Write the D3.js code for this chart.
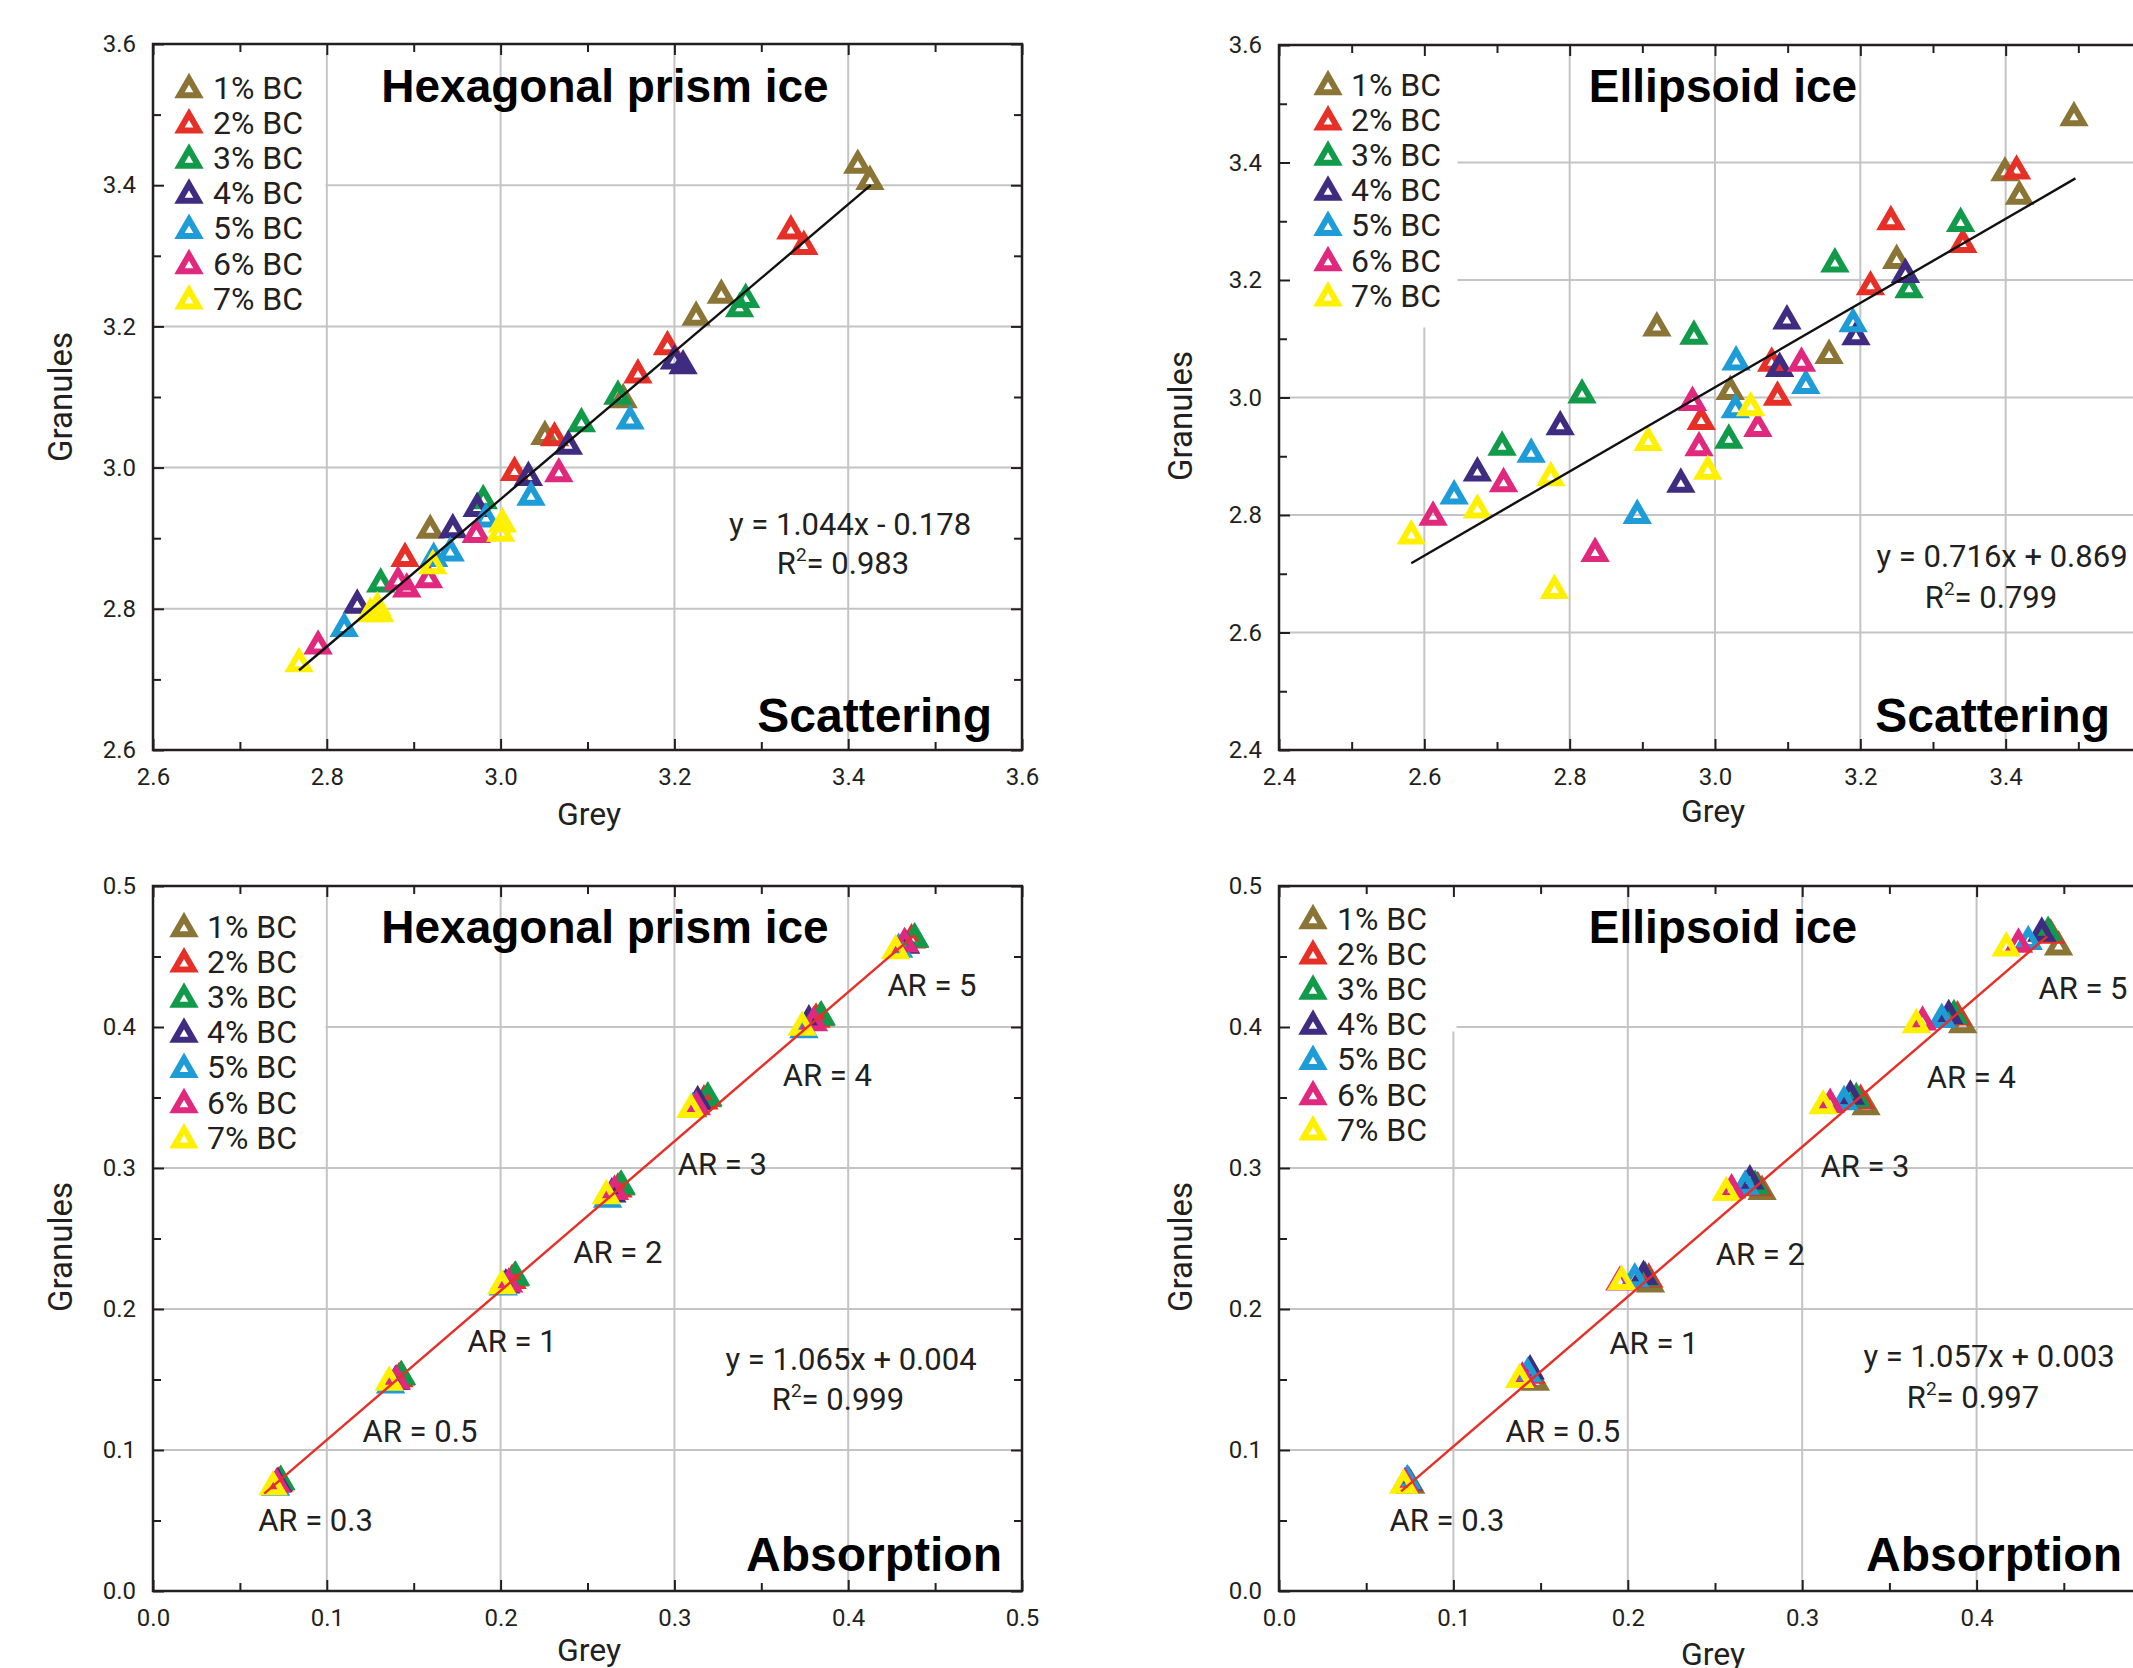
<!DOCTYPE html>
<html><head><meta charset="utf-8">
<script src="https://cdn.jsdelivr.net/npm/d3@7"></script>
<style>
html,body{margin:0;padding:0;background:#fff;}
svg{display:block;}
text{font-family:Roboto,"Noto Sans",sans-serif;fill:#231f20;}
.bold{font-family:"Liberation Sans",Arial,sans-serif;font-weight:bold;fill:#000;}
</style></head><body>
<svg id="c" width="2133" height="1668"></svg>
<script>
// ---------------- DATA ----------------
const seriesLabels = ["1% BC","2% BC","3% BC","4% BC","5% BC","6% BC","7% BC"];
const seriesColors = ["#8b7536","#e63027","#119a4a","#3f2c80","#1d9cd8","#e0287d","#fff000"];
const arLabels = ["AR = 0.3","AR = 0.5","AR = 1","AR = 2","AR = 3","AR = 4","AR = 5"];
const panelTitles = ["Hexagonal prism ice","Ellipsoid ice","Hexagonal prism ice","Ellipsoid ice"];
const panelModes = ["Scattering","Scattering","Absorption","Absorption"];
const panelEquations = ["y = 1.044x - 0.178","y = 0.716x + 0.869","y = 1.065x + 0.004","y = 1.057x + 0.003"];
const panelR2 = ["0.983","0.799","0.999","0.997"];
const xAxisTitle = "Grey";
const yAxisTitle = "Granules";

// Top-left: hexagonal prism ice, scattering
const hexScatGrey = [
  [3.411,3.425,3.254,3.225,3.141,3.051,2.919],
  [3.334,3.349,3.192,3.158,3.062,3.016,2.890],
  [3.282,3.275,3.135,3.093,2.980,2.862],
  [3.210,3.200,3.078,3.032,2.973,2.945,2.835],
  [3.149,3.035,2.983,2.942,2.923,2.820],
  [3.067,2.972,2.917,2.892,2.882,2.790],
  [3.002,3.000,2.922,2.861,2.850,2.858,2.768]
];
const hexScatGranules = [
  [3.432,3.409,3.248,3.217,3.100,3.048,2.915],
  [3.339,3.317,3.175,3.135,3.046,2.997,2.875],
  [3.242,3.229,3.105,3.066,2.957,2.839],
  [3.148,3.155,3.034,2.990,2.946,2.916,2.809],
  [3.070,2.962,2.931,2.883,2.875,2.776],
  [2.995,2.909,2.845,2.832,2.842,2.751],
  [2.924,2.911,2.865,2.797,2.797,2.805,2.726]
];
const hexScatFitX = [2.768,3.426];
const hexScatFitY = [2.713,3.400];

// Top-right: ellipsoid ice, scattering
const ellScatGrey = [
  [3.494,3.399,3.419,3.250,3.157,3.021,2.920],
  [3.415,3.242,3.341,3.214,3.078,3.086,2.981],
  [3.338,3.165,3.267,2.971,2.817,3.019,2.707],
  [3.262,3.099,3.194,3.089,2.787,2.673,2.953],
  [3.190,3.029,3.125,3.028,2.747,2.641,2.893],
  [3.119,2.969,3.059,2.978,2.709,2.612,2.835],
  [3.049,2.908,2.990,2.774,2.673,2.582,2.779]
];
const ellScatGranules = [
  [3.481,3.387,3.347,3.238,3.076,3.015,3.123],
  [3.390,3.304,3.265,3.193,3.063,3.005,2.964],
  [3.301,3.232,3.188,3.109,3.009,2.932,2.920],
  [3.214,3.135,3.108,3.054,2.955,2.876,2.857],
  [3.130,3.065,3.025,2.984,2.908,2.837,2.804],
  [3.063,2.996,2.952,2.919,2.858,2.801,2.739],
  [2.987,2.928,2.879,2.868,2.813,2.769,2.676]
];
const ellScatFitX = [2.582,3.496];
const ellScatFitY = [2.718,3.373];

// Bottom-left: hexagonal prism ice, absorption (AR = 0.3, 0.5, 1, 2, 3, 4, 5)
const hexAbsGrey = [
  [0.0735,0.1425,0.2080,0.2690,0.3190,0.3840,0.4380],
  [0.0725,0.1415,0.2066,0.2675,0.3170,0.3815,0.4364],
  [0.0735,0.1430,0.2086,0.2694,0.3193,0.3845,0.4383],
  [0.0718,0.1395,0.2030,0.2640,0.3134,0.3774,0.4330],
  [0.0705,0.1367,0.2015,0.2616,0.3105,0.3745,0.4290],
  [0.0711,0.1400,0.2046,0.2655,0.3126,0.3800,0.4324],
  [0.0691,0.1359,0.2007,0.2608,0.3095,0.3735,0.4273]
];
const hexAbsGranules = [
  [0.0795,0.1535,0.2240,0.2885,0.3510,0.4085,0.4640],
  [0.0785,0.1525,0.2222,0.2870,0.3495,0.4075,0.4636],
  [0.0796,0.1540,0.2245,0.2890,0.3517,0.4090,0.4643],
  [0.0780,0.1505,0.2190,0.2835,0.3490,0.4062,0.4600],
  [0.0755,0.1480,0.2175,0.2797,0.3440,0.4000,0.4570],
  [0.0777,0.1509,0.2196,0.2853,0.3453,0.4050,0.4610],
  [0.0758,0.1500,0.2185,0.2823,0.3435,0.4017,0.4560]
];
const hexAbsFitX = [0.064,0.438];
const hexAbsFitY = [0.069,0.465];
const hexAbsArX = [0.0935,0.1536,0.2066,0.2675,0.3276,0.3880,0.4482];
const hexAbsArY = [0.0507,0.1137,0.1772,0.2402,0.3033,0.3660,0.4298];

// Bottom-right: ellipsoid ice, absorption
const ellAbsGrey = [
  [0.0755,0.1470,0.2130,0.2770,0.3366,0.3920,0.4470],
  [0.0745,0.1445,0.2120,0.2745,0.3335,0.3890,0.4425],
  [0.0740,0.1435,0.2100,0.2730,0.3310,0.3870,0.4410],
  [0.0738,0.1440,0.2090,0.2700,0.3276,0.3840,0.4374],
  [0.0735,0.1425,0.2040,0.2673,0.3240,0.3800,0.4296],
  [0.0722,0.1395,0.1955,0.2595,0.3160,0.3690,0.4240],
  [0.0715,0.1380,0.1965,0.2564,0.3120,0.3654,0.4170]
];
const ellAbsGranules = [
  [0.0770,0.1500,0.2196,0.2853,0.3453,0.4035,0.4587],
  [0.0785,0.1550,0.2230,0.2880,0.3498,0.4090,0.4670],
  [0.0790,0.1570,0.2240,0.2890,0.3510,0.4100,0.4690],
  [0.0795,0.1580,0.2250,0.2928,0.3529,0.4100,0.4685],
  [0.0800,0.1560,0.2233,0.2890,0.3490,0.4073,0.4625],
  [0.0780,0.1530,0.2210,0.2864,0.3470,0.4054,0.4606],
  [0.0770,0.1520,0.2215,0.2845,0.3460,0.4035,0.4580]
];
const ellAbsFitX = [0.070,0.4405];
const ellAbsFitY = [0.0706,0.4643];
const ellAbsArX = [0.0963,0.1628,0.2150,0.2760,0.3360,0.3970,0.4610];
const ellAbsArY = [0.0507,0.1135,0.1760,0.2390,0.3015,0.3650,0.4280];

// ---------------- LAYOUT ----------------
const panels = [
  {box:{left:153,top:44,w:869,h:706}, xDom:[2.6,3.6], yDom:[2.6,3.6], major:0.2, minor:0.1,
   gx:hexScatGrey, gy:hexScatGranules, fx:hexScatFitX, fy:hexScatFitY, fitColor:"#111", fitW:2.4,
   legBox:[171,278], legTri:36, legText:60, legY0:43,
   titleX:452, titleY:58, modeX:-30, modeY:-18, eqX:697, eqY:491, r2X:690, r2Y:530,
   xtX:436, xtY:75, ytX:-81, ytY:353},
  {box:{left:1279,top:45,w:872,h:705}, xDom:[2.4,3.6], yDom:[2.4,3.6], major:0.2, minor:0.1,
   gx:ellScatGrey, gy:ellScatGranules, fx:ellScatFitX, fy:ellScatFitY, fitColor:"#111", fitW:2.4,
   legBox:[177,281], legTri:49, legText:72, legY0:39,
   titleX:444, titleY:57, modeX:-41, modeY:-18, eqX:723, eqY:522, r2X:712, r2Y:563,
   xtX:434, xtY:72, ytX:-87, ytY:371},
  {box:{left:153,top:886,w:869,h:705}, xDom:[0,0.5], yDom:[0,0.5], major:0.1, minor:0.05,
   gx:hexAbsGrey, gy:hexAbsGranules, fx:hexAbsFitX, fy:hexAbsFitY, fitColor:"#e63027", fitW:2.4,
   arX:hexAbsArX, arY:hexAbsArY,
   legBox:[171,270], legTri:31, legText:54, legY0:40,
   titleX:452, titleY:57, modeX:-20, modeY:-20, eqX:698, eqY:484, r2X:685, r2Y:524,
   xtX:436, xtY:70, ytX:-81, ytY:361},
  {box:{left:1279,top:886,w:872,h:705}, xDom:[0,0.5], yDom:[0,0.5], major:0.1, minor:0.05,
   gx:ellAbsGrey, gy:ellAbsGranules, fx:ellAbsFitX, fy:ellAbsFitY, fitColor:"#e63027", fitW:2.4,
   arX:ellAbsArX, arY:ellAbsArY,
   legBox:[176,144], legTri:34, legText:58, legY0:32,
   titleX:444, titleY:57, modeX:-29, modeY:-20, eqX:710, eqY:481, r2X:694, r2Y:522,
   xtX:434, xtY:74, ytX:-87, ytY:361}
];

const svg = d3.select("#c");
svg.append("rect").attr("width",2133).attr("height",1668).attr("fill","#fff");

// upward triangle centred on its bounding box
const triSide = 19;
const markerStroke = 6;
const boxTriangle = {
  draw(ctx, size) {
    const s = Math.sqrt(size / (Math.sqrt(3) / 4));
    const hh = s * Math.sqrt(3) / 2;
    ctx.moveTo(0, -hh / 2);
    ctx.lineTo(s / 2, hh / 2);
    ctx.lineTo(-s / 2, hh / 2);
    ctx.closePath();
  }
};
const triPath = d3.symbol().type(boxTriangle).size(Math.sqrt(3) / 4 * triSide * triSide)();
const ticksBetween = (d, step) => d3.range(Math.round((d[1]-d[0])/step)+1).map(i => +(d[0]+i*step).toFixed(3));
const fmt = d3.format(".1f");

panels.forEach((p, pi) => {
  const {left, top, w, h} = p.box;
  const x = d3.scaleLinear().domain(p.xDom).range([left, left+w]);
  const y = d3.scaleLinear().domain(p.yDom).range([top+h, top]);
  const g = svg.append("g");

  const xMaj = ticksBetween(p.xDom, p.major), yMaj = ticksBetween(p.yDom, p.major);
  const xMin = ticksBetween(p.xDom, p.minor).filter(v => !xMaj.includes(v));
  const yMin = ticksBetween(p.yDom, p.minor).filter(v => !yMaj.includes(v));

  // grid
  const grid = g.append("g").attr("stroke","#c4c4c4").attr("stroke-width",2);
  grid.selectAll(".vg").data(xMaj.slice(1,-1)).join("line")
    .attr("x1",d=>x(d)).attr("x2",d=>x(d)).attr("y1",top).attr("y2",top+h);
  grid.selectAll(".hg").data(yMaj.slice(1,-1)).join("line")
    .attr("y1",d=>y(d)).attr("y2",d=>y(d)).attr("x1",left).attr("x2",left+w);

  // legend background
  g.append("rect").attr("x",left+1.5).attr("y",top+1.5)
    .attr("width",p.legBox[0]).attr("height",p.legBox[1]).attr("fill","#fff");

  // markers
  p.gx.forEach((arr, si) => {
    g.append("g").selectAll("path").data(arr.map((v,i)=>[v, p.gy[si][i]])).join("path")
      .attr("d", triPath)
      .attr("transform", d => `translate(${x(d[0])},${y(d[1])})`)
      .attr("fill","none").attr("stroke", seriesColors[si])
      .attr("stroke-width",markerStroke).attr("stroke-linejoin","miter");
  });

  // fit line
  g.append("path").datum(p.fx.map((v,i)=>[v,p.fy[i]]))
    .attr("d", d3.line().x(d=>x(d[0])).y(d=>y(d[1])))
    .attr("stroke", p.fitColor).attr("stroke-width", p.fitW).attr("fill","none");

  // axes
  const styleAxis = sel => {
    sel.select(".domain").remove();
    sel.selectAll("line").attr("stroke","#231f20").attr("stroke-width",2);
    sel.selectAll("text").attr("font-size",24).attr("font-family","Roboto, sans-serif").attr("fill","#231f20");
  };
  const mk = (axisFn, scale, vals, size, labels, pad, transform) => {
    const ax = axisFn(scale).tickValues(vals).tickSize(-size).tickSizeOuter(0)
      .tickPadding(pad).tickFormat(labels ? fmt : "");
    g.append("g").attr("transform", transform).call(ax).call(styleAxis);
  };
  mk(d3.axisBottom, x, xMaj, 11, true, 18, `translate(0,${top+h})`);
  mk(d3.axisBottom, x, xMin, 8, false, 0, `translate(0,${top+h})`);
  mk(d3.axisTop, x, xMaj, 11, false, 0, `translate(0,${top})`);
  mk(d3.axisTop, x, xMin, 8, false, 0, `translate(0,${top})`);
  mk(d3.axisLeft, y, yMaj, 11, true, 17, `translate(${left},0)`);
  mk(d3.axisLeft, y, yMin, 8, false, 0, `translate(${left},0)`);
  mk(d3.axisRight, y, yMaj, 11, false, 0, `translate(${left+w},0)`);
  mk(d3.axisRight, y, yMin, 8, false, 0, `translate(${left+w},0)`);

  // frame
  g.append("rect").attr("x",left).attr("y",top).attr("width",w).attr("height",h)
    .attr("fill","none").attr("stroke","#231f20").attr("stroke-width",2.5);

  // legend
  seriesLabels.forEach((lab, si) => {
    const ly = top + p.legY0 + si*35.2;
    g.append("path").attr("d", triPath)
      .attr("transform", `translate(${left+p.legTri},${ly})`)
      .attr("fill","none").attr("stroke", seriesColors[si]).attr("stroke-width",markerStroke);
    g.append("text").attr("x", left+p.legText).attr("y", ly).attr("dy","0.36em")
      .attr("font-size",32).text(lab);
  });

  // titles
  g.append("text").attr("class","bold").attr("x",left+p.titleX).attr("y",top+p.titleY)
    .attr("text-anchor","middle").attr("font-size",46).text(panelTitles[pi]);
  g.append("text").attr("class","bold").attr("x",left+w+p.modeX).attr("y",top+h+p.modeY)
    .attr("text-anchor","end").attr("font-size",48).text(panelModes[pi]);

  // equation
  g.append("text").attr("x",left+p.eqX).attr("y",top+p.eqY).attr("text-anchor","middle")
    .attr("font-size",31).text(panelEquations[pi]);
  const r2 = g.append("text").attr("x",left+p.r2X).attr("y",top+p.r2Y).attr("text-anchor","middle")
    .attr("font-size",31);
  r2.append("tspan").text("R");
  r2.append("tspan").attr("font-size",19).attr("dy",-13).text("2");
  r2.append("tspan").attr("dy",13).text("= " + panelR2[pi]);

  // AR labels
  if (p.arX) {
    g.append("g").selectAll("text").data(arLabels).join("text")
      .attr("x",(d,i)=>x(p.arX[i])).attr("y",(d,i)=>y(p.arY[i])).attr("dy","0.36em")
      .attr("text-anchor","middle").attr("font-size",31).text(d=>d);
  }

  // axis titles
  g.append("text").attr("x",left+p.xtX).attr("y",top+h+p.xtY).attr("text-anchor","middle")
    .attr("font-size",32).text(xAxisTitle);
  g.append("text").attr("transform",`translate(${left+p.ytX},${top+p.ytY}) rotate(-90)`)
    .attr("text-anchor","middle").attr("font-size",33).text(yAxisTitle);
});
</script>
</body></html>
